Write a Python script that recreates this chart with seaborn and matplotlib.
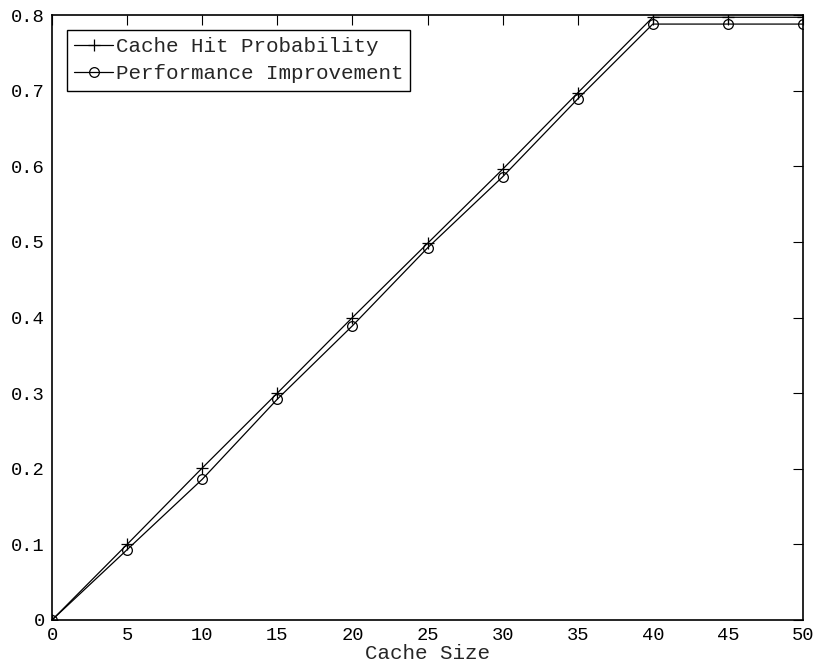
import matplotlib
matplotlib.use("Agg")
import matplotlib.pyplot as plt
import seaborn as sns
import pandas as pd

cache_size = [0, 5, 10, 15, 20, 25, 30, 35, 40, 45, 50]
hit_probability = [0.0, 0.100, 0.201, 0.300, 0.400, 0.498, 0.596, 0.697, 0.797, 0.797, 0.797]
perf_improvement = [0.0, 0.093, 0.186, 0.292, 0.389, 0.492, 0.586, 0.689, 0.788, 0.788, 0.788]
series_names = ["Cache Hit Probability", "Performance Improvement"]
x_ticks = [0, 5, 10, 15, 20, 25, 30, 35, 40, 45, 50]
y_ticks = [0, 0.1, 0.2, 0.3, 0.4, 0.5, 0.6, 0.7, 0.8]
y_tick_labels = ["0", "0.1", "0.2", "0.3", "0.4", "0.5", "0.6", "0.7", "0.8"]

sns.set_style("white")
plt.rcParams["font.family"] = ["Liberation Mono", "DejaVu Sans Mono"]

hit_df = pd.DataFrame({"size": cache_size, "value": hit_probability})
perf_df = pd.DataFrame({"size": cache_size, "value": perf_improvement})

fig = plt.figure(figsize=(8.16, 6.61), dpi=100)
ax = fig.add_axes([52 / 816, 1 - 620 / 661, (803 - 52) / 816, (620 - 15) / 661])

sns.lineplot(data=hit_df, x="size", y="value", color="black", marker="+",
             markersize=8, linewidth=0.9, markeredgewidth=0.9,
             markeredgecolor="black", label=series_names[0], ax=ax)
sns.lineplot(data=perf_df, x="size", y="value", color="black", marker="o",
             markersize=7, linewidth=0.9, markeredgewidth=0.9,
             markerfacecolor="none", markeredgecolor="black",
             label=series_names[1], ax=ax)

ax.set_xlim(0, 50)
ax.set_ylim(0, 0.8)
ax.set_xticks(x_ticks)
ax.set_xticklabels([str(t) for t in x_ticks])
ax.set_yticks(y_ticks)
ax.set_yticklabels(y_tick_labels)
ax.tick_params(direction="in", length=7, width=0.8, top=True, right=True,
               labelsize=13.5, colors="black")
ax.tick_params(axis="x", pad=5)
ax.tick_params(axis="y", pad=5)
ax.set_xlabel("Cache Size", fontsize=15)
ax.xaxis.set_label_coords(0.5, -0.039)
ax.set_ylabel("")
for s in ax.spines.values():
    s.set_visible(True)
    s.set_color("black")
    s.set_linewidth(1.2)

leg = ax.legend(loc="upper left", fontsize=15, frameon=True, fancybox=False,
                edgecolor="black", framealpha=1, handlelength=1.9,
                handletextpad=0.1, borderpad=0.35, labelspacing=0.4,
                borderaxespad=0.7)
leg.get_frame().set_linewidth(1.0)

fig.savefig("out.png", dpi=100, facecolor="white")
